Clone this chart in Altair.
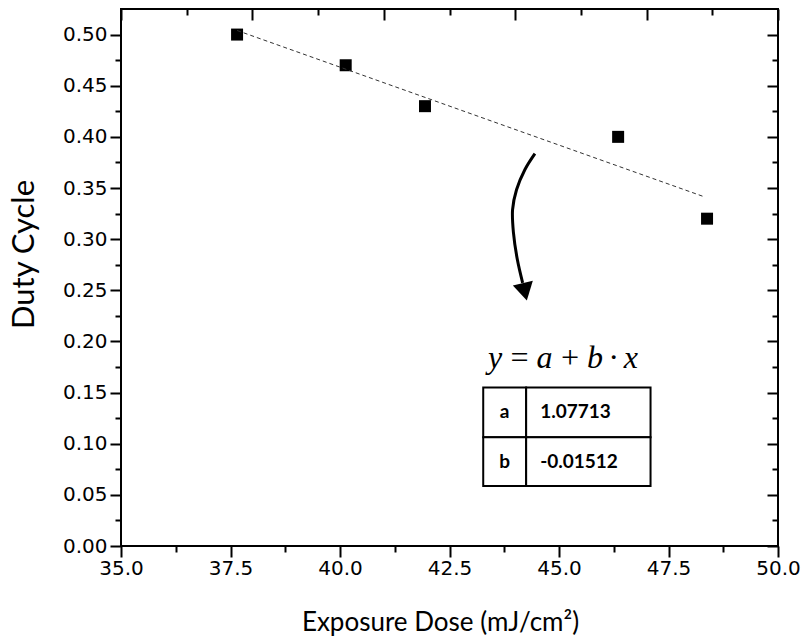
import altair as alt
import pandas as pd

# ---- data ----
dose = [37.65, 40.13, 41.94, 46.35, 48.38]
duty = [0.50, 0.47, 0.43, 0.40, 0.32]

fit_dose = [37.65, 48.31]
fit_duty = [0.504, 0.3415]

arrow_dose = [44.45, 44.22, 44.03, 43.94, 43.96, 44.05, 44.17]
arrow_duty = [0.3836, 0.3679, 0.3483, 0.3288, 0.3063, 0.2798, 0.2573]
head_dose = [44.22]
head_duty = [0.2485]

x_major = [35.0, 37.5, 40.0, 42.5, 45.0, 47.5, 50.0]
x_minor = [36.25, 38.75, 41.25, 43.75, 46.25, 48.75]
x_top_major = [35.0, 38.0, 41.0, 44.0, 47.0, 50.0]
x_top_minor = [36.5, 39.5, 42.5, 45.5, 48.5]
y_major = [0.00, 0.05, 0.10, 0.15, 0.20, 0.25, 0.30, 0.35, 0.40, 0.45, 0.50]
y_minor = [0.025, 0.075, 0.125, 0.175, 0.225, 0.275, 0.325, 0.375, 0.425, 0.475]

table_cols = [43.27, 44.25, 47.09]
table_rows = [0.1549, 0.1064, 0.0587]
param_names = ["a", "b"]
param_values = ["1.07713", "-0.01512"]
name_x = 43.76
value_x = 44.57
equation = "y\u2009=\u2009a\u2009+\u2009b\u2009·\u2009x"
equation_x = 45.09
equation_y = 0.174

x_title = "Exposure Dose (mJ/cm²)"
y_title = "Duty Cycle"

# ---- tables ----
pts = pd.DataFrame({"x": dose, "y": duty})
fit = pd.DataFrame({"x": fit_dose, "y": fit_duty})
arrow = pd.DataFrame({"x": arrow_dose, "y": arrow_duty, "i": list(range(len(arrow_dose)))})
head = pd.DataFrame({"x": head_dose, "y": head_duty})
cells = pd.DataFrame([
    {"x": table_cols[c], "x2": table_cols[c + 1], "y": table_rows[r], "y2": table_rows[r + 1]}
    for r in range(2) for c in range(2)
])
names = pd.DataFrame({"x": [name_x] * 2,
                      "y": [(table_rows[r] + table_rows[r + 1]) / 2 for r in range(2)],
                      "t": param_names})
values = pd.DataFrame({"x": [value_x] * 2,
                       "y": [(table_rows[r] + table_rows[r + 1]) / 2 for r in range(2)],
                       "t": param_values})
eq = pd.DataFrame({"x": [equation_x], "y": [equation_y], "t": [equation]})

xs = alt.Scale(domain=[35, 50], nice=False, zero=False)
ys = alt.Scale(domain=[0, 0.525], nice=False, zero=False)

common = dict(domain=False, grid=False, tickColor="black", labelFlush=False, labelOverlap=False)


def ax(orient, vals, size, offset=0, labels=False, **kw):
    d = dict(common)
    d.update(kw)
    if offset:
        d["offset"] = offset
    return alt.Axis(orient=orient, values=vals, tickSize=size, tickWidth=2,
                    labels=labels, **d)


bottom_major = ax("bottom", x_major, 11, labels=True, format=".1f",
                  labelFont="DejaVu Sans", labelFontSize=20, labelColor="black",
                  labelPadding=1, title=x_title, titleFont="Lato", titleFontSize=26,
                  titleFontWeight="normal", titleColor="black", titleX=319, titleY=84,
                  titleBaseline="alphabetic")
left_major = ax("left", y_major, 11, labels=True, format=".2f",
                labelFont="DejaVu Sans", labelFontSize=20, labelColor="black",
                labelPadding=3, title=y_title, titleFont="Lato", titleFontSize=31,
                titleFontWeight="normal", titleColor="black", titleX=-97, titleY=245,
                titleBaseline="middle", titleAngle=270)
bottom_minor = ax("bottom", x_minor, 6, title=None)
left_minor = ax("left", y_minor, 6, title=None)
top_major = ax("top", x_top_major, 11, offset=-11, title=None)
top_minor = ax("top", x_top_minor, 6, offset=-6, title=None)
right_major = ax("right", y_major, 11, offset=-11, title=None)
right_minor = ax("right", y_minor, 6, offset=-6, title=None)

points = alt.Chart(pts).mark_square(size=144, color="black", opacity=1).encode(
    x=alt.X("x:Q", scale=xs, axis=bottom_major),
    y=alt.Y("y:Q", scale=ys, axis=left_major),
)
fitline = alt.Chart(fit).mark_line(strokeDash=[4, 3], strokeWidth=1, color="#333333").encode(
    x=alt.X("x:Q", scale=xs, axis=bottom_minor),
    y=alt.Y("y:Q", scale=ys, axis=left_minor),
)
arrow_line = alt.Chart(arrow).mark_line(strokeWidth=3, color="black", interpolate="catmull-rom").encode(
    x=alt.X("x:Q", scale=xs, axis=top_major),
    y=alt.Y("y:Q", scale=ys, axis=right_major),
    order="i:Q",
)
arrow_head = alt.Chart(head).mark_point(shape="triangle-down", filled=True, size=420,
                                        color="black", opacity=1, angle=347).encode(
    x=alt.X("x:Q", scale=xs, axis=top_minor),
    y=alt.Y("y:Q", scale=ys, axis=right_minor),
)
table = alt.Chart(cells).mark_rect(fill="white", stroke="black", strokeWidth=2).encode(
    x=alt.X("x:Q", scale=xs, axis=None), x2="x2:Q",
    y=alt.Y("y:Q", scale=ys, axis=None), y2="y2:Q",
)
name_text = alt.Chart(names).mark_text(font="Lato", fontSize=19, fontWeight="bold",
                                       align="center", baseline="middle", color="black").encode(
    x=alt.X("x:Q", scale=xs, axis=None), y=alt.Y("y:Q", scale=ys, axis=None), text="t:N")
value_text = alt.Chart(values).mark_text(font="Lato", fontSize=19, fontWeight="bold",
                                         align="left", baseline="middle", color="black").encode(
    x=alt.X("x:Q", scale=xs, axis=None), y=alt.Y("y:Q", scale=ys, axis=None), text="t:N")
eq_text = alt.Chart(eq).mark_text(font="Liberation Serif", fontSize=32, fontStyle="italic",
                                  align="center", baseline="alphabetic", color="black").encode(
    x=alt.X("x:Q", scale=xs, axis=None), y=alt.Y("y:Q", scale=ys, axis=None), text="t:N")

chart = alt.layer(
    points, fitline, arrow_line, arrow_head, table, name_text, value_text, eq_text
).resolve_axis(x="independent", y="independent").properties(
    width=657, height=537,
    padding={"left": 121, "top": 9, "right": 24, "bottom": 91},
    autosize=alt.AutoSizeParams(type="none"),
    background="white",
).configure_view(stroke="black", strokeWidth=2)

chart.save("out.html", embed_options={"renderer": "svg", "actions": False})
